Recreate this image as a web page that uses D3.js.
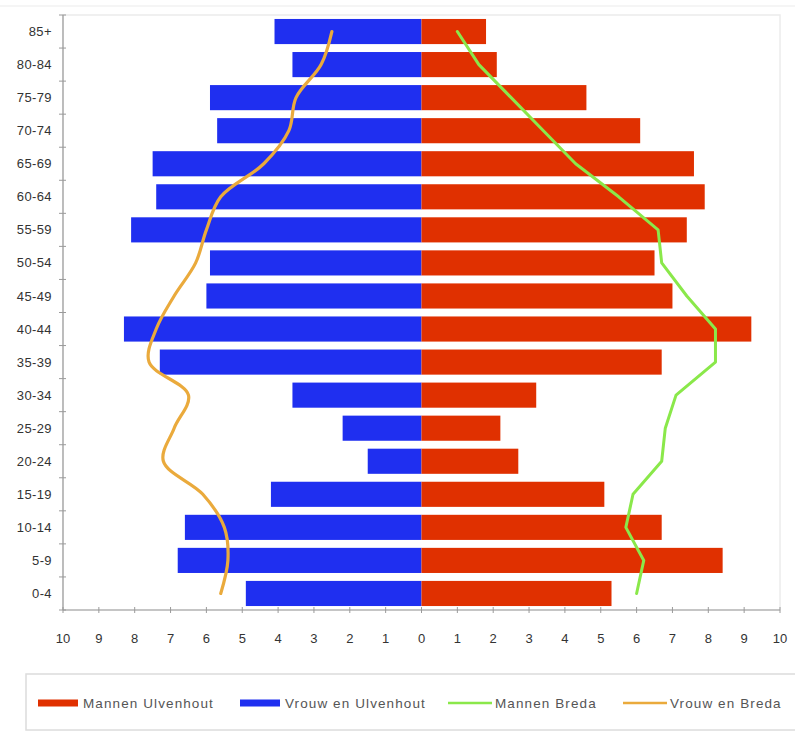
<!DOCTYPE html>
<html>
<head>
<meta charset="utf-8">
<script src="https://cdn.jsdelivr.net/npm/d3@7"></script>
<style>
  html, body { margin: 0; padding: 0; background: #fff; }
  svg { display: block; font-family: "Liberation Sans", Arial, sans-serif; }
</style>
</head>
<body>
<svg id="chart" width="795" height="731"></svg>
<script>
// Age groups, oldest at the top
const ageGroups = ["85+", "80-84", "75-79", "70-74", "65-69", "60-64", "55-59", "50-54", "45-49",
                   "40-44", "35-39", "30-34", "25-29", "20-24", "15-19", "10-14", "5-9", "0-4"];

// Share of population per age group (%)
const mannenUlvenhout = [1.8, 2.1, 4.6, 6.1, 7.6, 7.9, 7.4, 6.5, 7.0, 9.2, 6.7, 3.2, 2.2, 2.7, 5.1, 6.7, 8.4, 5.3];
const vrouwenUlvenhout = [4.1, 3.6, 5.9, 5.7, 7.5, 7.4, 8.1, 5.9, 6.0, 8.3, 7.3, 3.6, 2.2, 1.5, 4.2, 6.6, 6.8, 4.9];
const mannenBreda = [1.0, 1.6, 2.5, 3.4, 4.3, 5.5, 6.6, 6.7, 7.4, 8.2, 8.2, 7.1, 6.8, 6.7, 5.9, 5.7, 6.2, 6.0];
const vrouwenBreda = [2.5, 2.8, 3.5, 3.7, 4.4, 5.6, 6.0, 6.3, 6.9, 7.4, 7.6, 6.5, 6.9, 7.2, 6.1, 5.5, 5.4, 5.6];

const axisTicks = [10, 9, 8, 7, 6, 5, 4, 3, 2, 1, 0, 1, 2, 3, 4, 5, 6, 7, 8, 9, 10];

const legendItems = [
  { label: "Mannen Ulvenhout", color: "#e03000", type: "bar" },
  { label: "Vrouw en Ulvenhout", color: "#1f2ff0", type: "bar" },
  { label: "Mannen Breda", color: "#8ae84a", type: "line" },
  { label: "Vrouw en Breda", color: "#eaaa3c", type: "line" }
];

const svg = d3.select("#chart");
const plot = { left: 63, right: 780, top: 15, bottom: 610 };

// Signed scale: women to the left (negative), men to the right (positive)
const x = d3.scaleLinear().domain([-10, 10]).range([plot.left, plot.right]);
const y = d3.scaleBand().domain(ageGroups).range([plot.top, plot.bottom]).paddingInner(0.24).paddingOuter(0.12);

// Outer chart edge and plot area frame
svg.append("line").attr("x1", 0).attr("x2", 795).attr("y1", 6).attr("y2", 6)
  .attr("stroke", "#f2f2f2").attr("stroke-width", 1.5);
svg.append("rect")
  .attr("x", plot.left).attr("y", plot.top)
  .attr("width", plot.right - plot.left).attr("height", plot.bottom - plot.top)
  .attr("fill", "none").attr("stroke", "#ececec").attr("stroke-width", 1.5);

// Bars
svg.append("g").selectAll("rect")
  .data(ageGroups.map((g, i) => ({ g, v: vrouwenUlvenhout[i] })))
  .join("rect")
  .attr("x", d => x(-d.v)).attr("y", d => y(d.g))
  .attr("width", d => x(0) - x(-d.v)).attr("height", y.bandwidth())
  .attr("fill", "#1f2ff0");

svg.append("g").selectAll("rect")
  .data(ageGroups.map((g, i) => ({ g, v: mannenUlvenhout[i] })))
  .join("rect")
  .attr("x", x(0)).attr("y", d => y(d.g))
  .attr("width", d => x(d.v) - x(0)).attr("height", y.bandwidth())
  .attr("fill", "#e03000");

// Breda reference lines
const yMid = g => y(g) + y.bandwidth() / 2;

svg.append("path")
  .datum(ageGroups.map((g, i) => [x(-vrouwenBreda[i]), yMid(g)]))
  .attr("d", d3.line().curve(d3.curveCatmullRom.alpha(0.5)))
  .attr("fill", "none").attr("stroke", "#eaaa3c").attr("stroke-width", 3.2)
  .attr("stroke-linejoin", "round").attr("stroke-linecap", "round");

svg.append("path")
  .datum(ageGroups.map((g, i) => [x(mannenBreda[i]), yMid(g)]))
  .attr("d", d3.line())
  .attr("fill", "none").attr("stroke", "#8ae84a").attr("stroke-width", 3)
  .attr("stroke-linejoin", "round").attr("stroke-linecap", "round");

// Horizontal value axis
const xAxis = svg.append("g").attr("transform", `translate(0,${plot.bottom})`);
xAxis.append("line").attr("x1", plot.left).attr("x2", plot.right)
  .attr("stroke", "#9a9a9a").attr("stroke-width", 1.2);
const tickVals = d3.range(-10, 11);
xAxis.selectAll("line.tick").data(tickVals).join("line")
  .attr("class", "tick")
  .attr("x1", d => x(d)).attr("x2", d => x(d))
  .attr("y1", -3).attr("y2", 3)
  .attr("stroke", "#9a9a9a");
xAxis.selectAll("text").data(tickVals).join("text")
  .attr("x", d => x(d)).attr("y", 33)
  .attr("text-anchor", "middle")
  .attr("font-size", 13).attr("fill", "#333")
  .text((d, i) => axisTicks[i]);

// Vertical category axis
const yAxis = svg.append("g");
yAxis.append("line").attr("x1", plot.left).attr("x2", plot.left)
  .attr("y1", plot.top).attr("y2", plot.bottom)
  .attr("stroke", "#9a9a9a").attr("stroke-width", 1.2);
yAxis.selectAll("line.tick").data(d3.range(ageGroups.length + 1)).join("line")
  .attr("class", "tick")
  .attr("x1", plot.left - 4).attr("x2", plot.left + 3)
  .attr("y1", i => plot.top + i * (plot.bottom - plot.top) / ageGroups.length)
  .attr("y2", i => plot.top + i * (plot.bottom - plot.top) / ageGroups.length)
  .attr("stroke", "#9a9a9a");
yAxis.selectAll("text").data(ageGroups).join("text")
  .attr("x", 52).attr("y", g => yMid(g))
  .attr("dy", "0.35em")
  .attr("text-anchor", "end")
  .attr("font-size", 13).attr("fill", "#333")
  .attr("letter-spacing", "0.4")
  .text(g => g);

// Legend
const legend = svg.append("g");
legend.append("rect")
  .attr("x", 26).attr("y", 674).attr("width", 780).attr("height", 56)
  .attr("fill", "#fff").attr("stroke", "#dcdcdc").attr("stroke-width", 1.5);

const legendX = [38, 240, 448, 623];
const li = legend.selectAll("g").data(legendItems).join("g")
  .attr("transform", (d, i) => `translate(${legendX[i]},703)`);
li.filter(d => d.type === "bar").append("rect")
  .attr("x", 0).attr("y", -3.5).attr("width", 40).attr("height", 7)
  .attr("fill", d => d.color);
li.filter(d => d.type === "line").append("line")
  .attr("x1", 0).attr("x2", 44).attr("y1", 0).attr("y2", 0)
  .attr("stroke", d => d.color).attr("stroke-width", 2.5);
li.append("text")
  .attr("x", d => d.type === "bar" ? 45 : 47).attr("y", 0).attr("dy", "0.35em")
  .attr("font-size", 13.5).attr("fill", "#555")
  .attr("letter-spacing", "1.1")
  .text(d => d.label);
</script>
</body>
</html>
